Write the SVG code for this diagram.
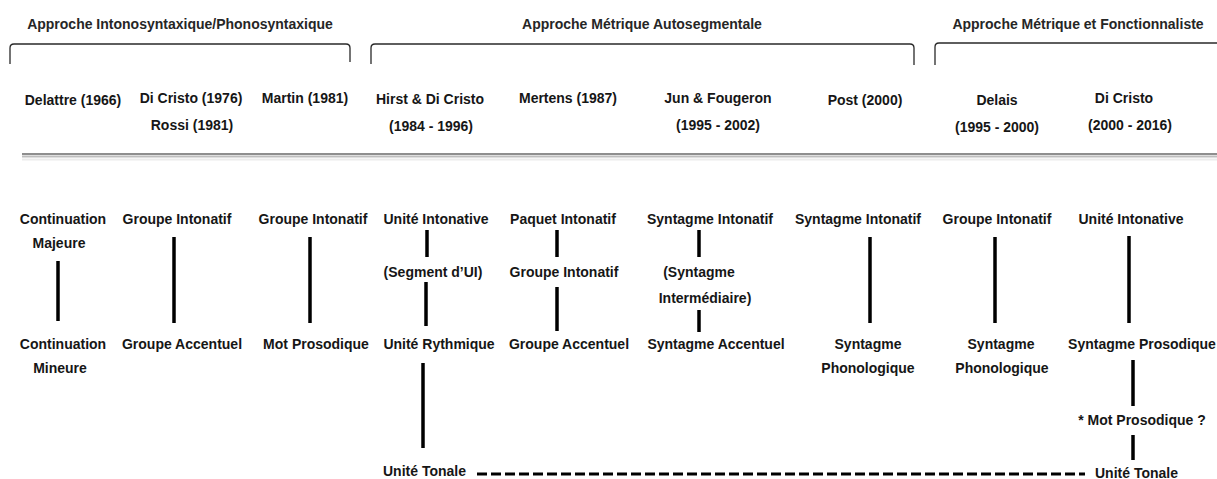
<svg xmlns="http://www.w3.org/2000/svg" width="1217" height="479" viewBox="0 0 1217 479">
  <style>
    text { font-family: "Liberation Sans", Arial, sans-serif; font-weight: bold; font-size: 14px; fill: #161616; text-anchor: middle; }
    .hd { fill: #262626; }
    .st { text-anchor: start; }
    .brace { fill: none; stroke: #2a2a2a; stroke-width: 1.3; }
    .lk { stroke: #000; stroke-width: 3.5; fill: none; }
    .dash { stroke: #000; stroke-width: 3; stroke-dasharray: 10 4; fill: none; }
  </style>
  <rect width="1217" height="479" fill="#fff"/>

  <!-- approach headings with their braces -->
  <g id="approach-intono">
    <text class="hd" x="180" y="29">Approche Intonosyntaxique/Phonosyntaxique</text>
    <path class="brace" d="M10,64 L10,48 Q10,44 14,44 L346,44 Q350,44 350,48 L350,62"/>
  </g>
  <g id="approach-metrique">
    <text class="hd" x="642" y="29">Approche Métrique Autosegmentale</text>
    <path class="brace" d="M371,64 L371,48 Q371,44 375,44 L910,44 Q914,44 914,48 L914,65"/>
  </g>
  <g id="approach-fonctionnaliste">
    <text class="hd" x="1078" y="29">Approche Métrique et Fonctionnaliste</text>
    <path class="brace" d="M935,65 L935,47 Q935,43 939,43 L1220,43"/>
  </g>

  <!-- authors -->
  <g id="authors">
    <text x="73" y="105">Delattre (1966)</text>
    <text x="191" y="103">Di Cristo (1976)</text>
    <text x="192" y="130">Rossi (1981)</text>
    <text x="305" y="103">Martin (1981)</text>
    <text x="430" y="104">Hirst &amp; Di Cristo</text>
    <text x="431" y="131">(1984 - 1996)</text>
    <text x="568" y="103">Mertens (1987)</text>
    <text x="718" y="103">Jun &amp; Fougeron</text>
    <text x="718" y="130">(1995 - 2002)</text>
    <text x="865" y="105">Post (2000)</text>
    <text x="997" y="105">Delais</text>
    <text x="997" y="132">(1995 - 2000)</text>
    <text x="1124" y="103">Di Cristo</text>
    <text x="1130" y="130">(2000 - 2016)</text>
  </g>

  <!-- separator rule -->
  <g id="separator">
    <line x1="22" y1="159.5" x2="1217" y2="159.5" stroke="#ececec" stroke-width="2"/>
    <line x1="22" y1="156.5" x2="1217" y2="156.5" stroke="#bdbdbd" stroke-width="2"/>
    <line x1="22" y1="154" x2="1217" y2="154" stroke="#8e8e8e" stroke-width="2"/>
  </g>

  <!-- prosodic units -->
  <g id="col-delattre">
    <text x="63" y="224">Continuation</text>
    <text x="59" y="248">Majeure</text>
    <text x="63" y="349">Continuation</text>
    <text x="60" y="373">Mineure</text>
  </g>
  <g id="col-dicristo-rossi">
    <text x="177" y="224">Groupe Intonatif</text>
    <text x="182" y="349">Groupe Accentuel</text>
  </g>
  <g id="col-martin">
    <text x="313" y="224">Groupe Intonatif</text>
    <text x="316" y="349">Mot Prosodique</text>
  </g>
  <g id="col-hirst">
    <text x="436" y="224">Unité Intonative</text>
    <text x="433" y="277">(Segment d’UI)</text>
    <text x="439" y="349">Unité Rythmique</text>
    <text class="st" x="383" y="476">Unité Tonale</text>
  </g>
  <g id="col-mertens">
    <text x="563" y="224">Paquet Intonatif</text>
    <text x="564" y="277">Groupe Intonatif</text>
    <text x="569" y="349">Groupe Accentuel</text>
  </g>
  <g id="col-jun">
    <text x="710" y="224">Syntagme Intonatif</text>
    <text x="699" y="277">(Syntagme</text>
    <text x="705" y="303">Intermédiaire)</text>
    <text x="716" y="349">Syntagme Accentuel</text>
  </g>
  <g id="col-post">
    <text x="858" y="224">Syntagme Intonatif</text>
    <text x="868" y="349">Syntagme</text>
    <text x="868" y="373">Phonologique</text>
  </g>
  <g id="col-delais">
    <text x="997" y="224">Groupe Intonatif</text>
    <text x="1001" y="349">Syntagme</text>
    <text x="1002" y="373">Phonologique</text>
  </g>
  <g id="col-dicristo">
    <text x="1131" y="224">Unité Intonative</text>
    <text x="1142" y="349">Syntagme Prosodique</text>
    <text x="1142" y="425">* Mot Prosodique ?</text>
    <text class="st" x="1095" y="478">Unité Tonale</text>
  </g>

  <!-- connectors -->
  <g id="connectors">
    <line class="lk" x1="58" y1="261" x2="58" y2="321"/>
    <line class="lk" x1="174" y1="237" x2="174" y2="323"/>
    <line class="lk" x1="310" y1="237" x2="310" y2="323"/>
    <line class="lk" x1="427" y1="230" x2="427" y2="257"/>
    <line class="lk" x1="426" y1="282" x2="426" y2="326"/>
    <line class="lk" x1="423" y1="363" x2="423" y2="448"/>
    <line class="lk" x1="557" y1="230" x2="557" y2="257"/>
    <line class="lk" x1="557" y1="287" x2="557" y2="331"/>
    <line class="lk" x1="699" y1="230" x2="699" y2="257"/>
    <line class="lk" x1="699" y1="310" x2="699" y2="332"/>
    <line class="lk" x1="870" y1="237" x2="870" y2="323"/>
    <line class="lk" x1="995" y1="237" x2="995" y2="323"/>
    <line class="lk" x1="1129" y1="236" x2="1129" y2="323"/>
    <line class="lk" x1="1133" y1="360" x2="1133" y2="406"/>
    <line class="lk" x1="1133" y1="435" x2="1133" y2="460"/>
    <line class="dash" x1="477" y1="474" x2="1085" y2="474"/>
  </g>
</svg>
